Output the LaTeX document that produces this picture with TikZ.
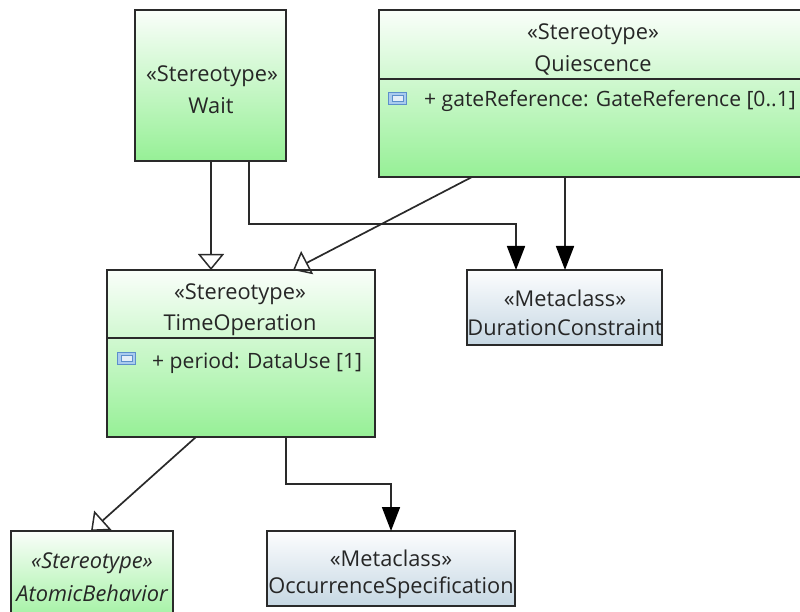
\documentclass[tikz,border=0pt]{standalone}
\usepackage{fontspec}
\setmainfont{Open Sans}
\usetikzlibrary{arrows.meta,calc}
\definecolor{ln}{HTML}{2A2A2A}
\definecolor{txt}{HTML}{262626}
\definecolor{grn}{HTML}{96F096}
\definecolor{gtop}{HTML}{FAFEFA}
\definecolor{mtop}{HTML}{FCFDFE}
\definecolor{mbot}{HTML}{C6D7E3}
\definecolor{icb}{HTML}{5C8FCB}
\definecolor{icf}{HTML}{A9CBEE}
\definecolor{ici}{HTML}{E4EEF8}
\tikzset{
  stereobox/.style={draw=ln,line width=1.5pt,rectangle,anchor=north west,inner sep=0pt,outer sep=0pt,top color=gtop,bottom color=grn},
  metabox/.style={draw=ln,line width=1.5pt,rectangle,anchor=north west,inner sep=0pt,outer sep=0pt,top color=mtop,bottom color=mbot},
  lbl/.style={text=txt,inner sep=0pt,font=\fontsize{21.8}{26}\selectfont},
  ilbl/.style={text=txt,inner sep=0pt,font=\fontsize{21.8}{26}\selectfont\itshape},
  attr/.style={text=txt,inner sep=0pt,font=\fontsize{21.1}{26}\selectfont,anchor=base west},
  icon/.style={draw=icb,line width=1.4pt,fill=icf,rectangle,inner sep=0pt,minimum width=18pt,minimum height=12pt,anchor=north west},
  iconin/.style={draw=icb,line width=0.7pt,fill=ici,rectangle,inner sep=0pt,minimum width=11pt,minimum height=6pt},
  conn/.style={draw=ln,line width=1.7pt},
  gen/.style={conn,-{Triangle[open,length=16pt,width=26pt,line width=1.5pt]}},
  assoc/.style={conn,-{Triangle[length=24pt,width=18pt,color=black]}},
  divider/.style={draw=ln,line width=1.5pt}
}
\begin{document}
\begin{tikzpicture}[x=1pt,y=-1pt]
\useasboundingbox (0,0) rectangle (800,612);
\clip (0,0) rectangle (800,612);
\node[stereobox,minimum width=151pt,minimum height=151pt] (wait) at (135,10) {};
\node[stereobox,minimum width=430pt,minimum height=167pt] (quies) at (379,10) {};
\node[stereobox,minimum width=268pt,minimum height=167pt] (timeop) at (107,270) {};
\node[metabox,minimum width=195pt,minimum height=75pt] (dur) at (467,270) {};
\node[stereobox,minimum width=162pt,minimum height=100pt] (atomic) at (11,531) {};
\node[metabox,minimum width=248pt,minimum height=75pt] (occ) at (267,531) {};

\draw[divider] ($(quies.north west)+(0,69)$) -- ($(quies.north east)+(0,69)$);
\draw[divider] ($(timeop.north west)+(0,68)$) -- ($(timeop.north east)+(0,68)$);

\node[lbl] (w1) at (212,76) {«Stereotype»};
\node[lbl] (w2) at (211,106) {Wait};
\node[lbl] (q1) at (593,34) {«Stereotype»};
\node[lbl] (q2) at (593,65) {Quiescence};
\node[icon] (qi) at (388,92) {};
\node[iconin] (qii) at (qi.center) {};
\node[attr] (qa) at (424,107) {+ gateReference: GateReference [0..1]};
\node[lbl] (t1) at (240,294) {«Stereotype»};
\node[lbl] (t2) at (240,325) {TimeOperation};
\node[icon] (ti) at (117,352) {};
\node[iconin] (tii) at (ti.center) {};
\node[attr] (ta) at (152,368) {+ period: DataUse [1]};
\node[lbl] (d1) at (565,298) {«Metaclass»};
\node[lbl] (d2) at (565,328) {DurationConstraint};
\node[ilbl] (a1) at (92,563) {«Stereotype»};
\node[ilbl] (a2) at (92,593) {AtomicBehavior};
\node[lbl] (o1) at (391,558) {«Metaclass»};
\node[lbl] (o2) at (391,588) {OccurrenceSpecification};

\draw[gen] ($(wait.south west)+(76,0)$) -- ($(timeop.north west)+(104,0)$);
\draw[gen] ($(quies.south west)+(93,0)$) -- ($(timeop.north west)+(186,0)$);
\draw[gen] ($(timeop.south west)+(89,0)$) -- ($(atomic.north west)+(80,0)$);
\draw[assoc] ($(wait.south west)+(114,0)$) |- ($(dur.north west)+(49,-46)$) -- ($(dur.north west)+(49,0)$);
\draw[assoc] ($(quies.south west)+(186,0)$) -- ($(dur.north west)+(98,0)$);
\draw[assoc] ($(timeop.south west)+(179,0)$) |- ($(occ.north west)+(124,-47)$) -- ($(occ.north west)+(124,0)$);
\end{tikzpicture}
\end{document}
